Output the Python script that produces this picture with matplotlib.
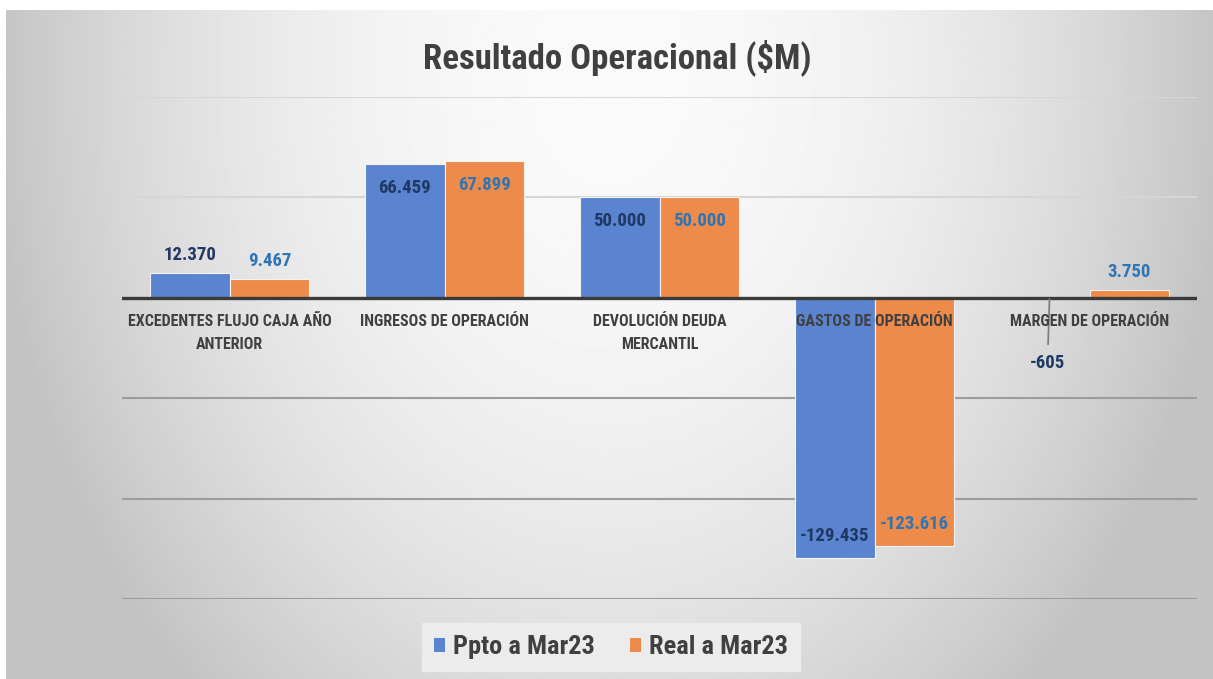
import numpy as np
import matplotlib
matplotlib.use("Agg")
from matplotlib import pyplot as plt
from matplotlib import font_manager
from matplotlib.patches import Patch

# data
categories = ["EXCEDENTES FLUJO CAJA AÑO\nANTERIOR", "INGRESOS DE OPERACIÓN",
              "DEVOLUCIÓN DEUDA\nMERCANTIL", "GASTOS DE OPERACIÓN", "MARGEN DE OPERACIÓN"]
ppto = [12370, 66459, 50000, -129435, -605]
real = [9467, 67899, 50000, -123616, 3750]
series_names = ["Ppto a Mar23", "Real a Mar23"]
title = "Resultado Operacional ($M)"

# label placement per category (excel style)
label_modes = ["out", "in_end", "in_end", "in_base", "out"]

# pick a narrow font if there is one
names = {f.name for f in font_manager.fontManager.ttflist}
if "Roboto Condensed" in names:
    FONT, k = "Roboto Condensed", 1.0
elif "Liberation Sans Narrow" in names:
    FONT, k = "Liberation Sans Narrow", 1.0
else:
    FONT, k = "Liberation Sans", 0.82
plt.rcParams["font.family"] = [FONT, "DejaVu Sans"]
plt.rcParams["font.weight"] = "bold"

BLUE, ORANGE = "#5a84cf", "#ef8b4a"
LBL_COLORS = ["#1f3864", "#2e75b6"]
TXT = "#404040"

W, H = 1213, 679
fig = plt.figure(figsize=(W / 100, H / 100), dpi=100, facecolor="white")

# gradient background
bg = fig.add_axes([6 / W, 0, 1 - 6 / W, 1 - 10 / H])
xx, yy = np.meshgrid(np.linspace(0, 1, 400), np.linspace(0, 1, 300))
r2 = ((xx - 0.5) / 0.5) ** 2 + ((yy - 0.1) / 1.2) ** 2
gray = np.clip(250 - 52 * r2, 196, 250) / 255
bg.imshow(gray, cmap="gray", vmin=0, vmax=1, aspect="auto", extent=[0, 1, 1, 0])
bg.axis("off")

ax = fig.add_axes([122 / W, 1 - 599 / H, (1197 - 122) / W, (599 - 97) / H])
ax.patch.set_alpha(0)
for s in ax.spines.values():
    s.set_visible(False)
ax.set_xticks([])
ax.set_yticks([])
ax.set_xlim(-0.5, len(categories) - 0.5)
ax.set_ylim(-150000, 100000)

for gv in [100000, 50000]:
    ax.axhline(gv, color="#d6d6d6", lw=1.5, zorder=1)
for gv in [-50000, -100000, -150000]:
    ax.axhline(gv, color="#9c9c9c", lw=1.5, zorder=1)
ax.axhline(0, color="#3a3a3a", lw=2.4, zorder=4)

x = np.arange(len(categories))
w = 0.372
fs_lbl = 13.5 * k
for j, (vals, col) in enumerate([(ppto, BLUE), (real, ORANGE)]):
    xs = x + (j - 0.5) * w
    ax.bar(xs, vals, w, color=col, edgecolor="#f4f4f4", linewidth=0.8,
           zorder=3, label=series_names[j])
    for xi, v, mode in zip(xs, vals, label_modes):
        txt = f"{v:,}".replace(",", ".")
        if mode == "out" and v >= 0:
            ax.annotate(txt, (xi, v), xytext=(0, 9), textcoords="offset pixels",
                        ha="center", va="bottom", color=LBL_COLORS[j],
                        fontsize=fs_lbl, zorder=6)
        elif mode == "out":
            ax.annotate(txt, (xi, v), xytext=(-2, -64), textcoords="offset pixels",
                        ha="center", va="center", color=LBL_COLORS[j],
                        fontsize=fs_lbl, zorder=6,
                        arrowprops=dict(arrowstyle="-", color="#7f7f7f", lw=1.3,
                                        shrinkA=5, shrinkB=0))
        elif mode == "in_end":
            ax.annotate(txt, (xi, v), xytext=(0, -24), textcoords="offset pixels",
                        ha="center", va="center", color=LBL_COLORS[j],
                        fontsize=fs_lbl, zorder=6)
        else:
            ax.annotate(txt, (xi, v), xytext=(0, 22), textcoords="offset pixels",
                        ha="center", va="center", color=LBL_COLORS[j],
                        fontsize=fs_lbl, zorder=6)

fs_cat = 11.5 * k
for xi, c in zip(x, categories):
    ax.annotate(c, (xi, 0), xytext=(0, -16), textcoords="offset pixels",
                ha="center", va="top", color=TXT, fontsize=fs_cat,
                linespacing=1.7, zorder=7)

fig.text(617 / W, 1 - 58 / H, title, ha="center", va="center", color=TXT,
         fontsize=25 * k)

handles = [Patch(facecolor=BLUE), Patch(facecolor=ORANGE)]
leg = fig.legend(handles, series_names, loc="center",
                 bbox_to_anchor=(611 / W, 1 - 647 / H), ncol=2,
                 frameon=True, fancybox=False, facecolor="#ececec",
                 edgecolor="#ececec", framealpha=1,
                 prop=dict(family=[FONT, "DejaVu Sans"], weight="bold",
                           size=19 * k),
                 handlelength=0.45, handleheight=0.45, handletextpad=0.3,
                 columnspacing=1.3, borderpad=0.45, labelcolor=TXT)

fig.savefig("out.png", dpi=100)
